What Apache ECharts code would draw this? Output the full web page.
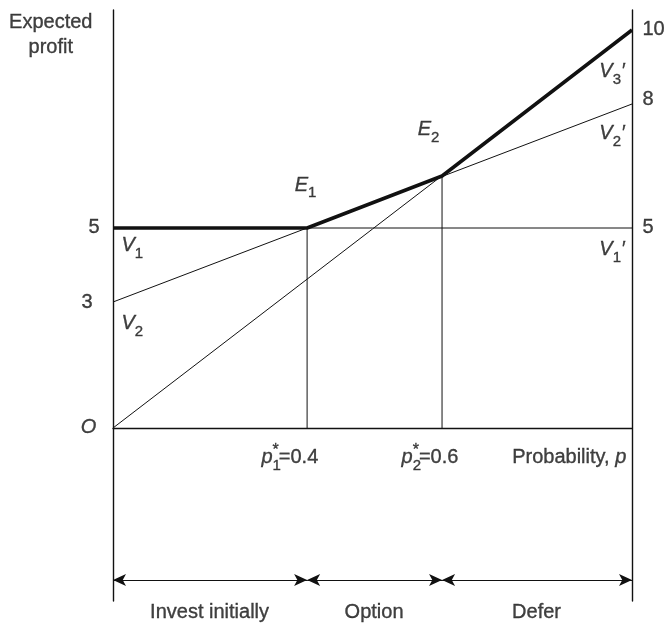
<!DOCTYPE html>
<html>
<head>
<meta charset="utf-8">
<script src="https://cdn.jsdelivr.net/npm/echarts@6/dist/echarts.min.js"></script>
<style>
  html, body { margin: 0; padding: 0; background: #fff; }
  #chart { width: 667px; height: 627px; }
</style>
</head>
<body>
<div id="chart"></div>
<script>
// value lines as drawn, p from 0 to 1
const probs = [0, 1]
const v1Values = [5, 5]
const v2Values = [3.15, 8.1]
const v3Values = [0, 9.95]
// where the lines meet in the drawing, and the printed values
const pStar = [0.374, 0.634]
const pStarLabels = ['0.4', '0.6']
const envelopeP = [0, 0.374, 0.634, 1]
const envelopeV = [5, 5, 6.3, 9.95]
// regions under the axis
const regionNames = ['Invest initially', 'Option', 'Defer']
const regionBounds = [0, 0.374, 0.634, 1]
// tick labels
const leftTickPos = [5, 3.12, 0]
const leftTickText = ['5', '3', '{i|O}']
const rightTickPos = [9.95, 8.2, 5]
const rightTickText = ['10', '8', '5']

const ink = '#111111'
const font = '"Liberation Sans", Arial, Helvetica, sans-serif'

const pairs = (xs, ys) => xs.map((x, i) => [x, ys[i]])

const lineSeries = (data, width) => ({
  type: 'line',
  data: data,
  symbol: 'none',
  silent: true,
  lineStyle: { color: ink, width: width },
  z: width > 2 ? 5 : 3,
})

// text annotations, positions in data units
const notes = [
  { at: [-0.119, 9.82], text: 'Expected\nprofit', align: 'center' },
  { at: [1.021, rightTickPos[0]], text: rightTickText[0], align: 'left' },
  { at: [1.021, rightTickPos[1]], text: rightTickText[1], align: 'left' },
  { at: [1.021, rightTickPos[2]], text: rightTickText[2], align: 'left' },
  { at: [0.0173, 4.54], text: '{i|V}{s|1}', align: 'left' },
  { at: [0.0173, 2.59], text: '{i|V}{s|2}', align: 'left' },
  { at: [0.938, 8.9], text: '{i|V}{s|3}{i|′}', align: 'left' },
  { at: [0.938, 7.34], text: '{i|V}{s|2}{i|′}', align: 'left' },
  { at: [0.938, 4.45], text: '{i|V}{s|1}{i|′}', align: 'left' },
  { at: [0.351, 6.06], text: '{i|E}{s|1}', align: 'left' },
  { at: [0.588, 7.45], text: '{i|E}{s|2}', align: 'left' },
  { at: [0.287, -0.75], text: '{i|p}{sz|1}{sup|*}{n|=' + pStarLabels[0] + '}', align: 'left' },
  { at: [0.557, -0.75], text: '{i|p}{sz|2}{sup|*}{n|=' + pStarLabels[1] + '}', align: 'left' },
  { at: [0.99, -0.75], text: '{n|Probability, }{i|p}', align: 'right' },
]
const leftOffsets = [-0.025, -0.0385, -0.031]
leftTickPos.forEach((v, k) => {
  notes.push({ at: [leftOffsets[k], v], text: leftTickText[k], align: 'right' })
})
regionNames.forEach((name, k) => {
  notes.push({
    at: [(regionBounds[k] + regionBounds[k + 1]) / 2, -4.62],
    text: name,
    align: 'center',
  })
})

const arrowY = -3.8
const arrowLines = regionNames.map((_, k) => [
  { coord: [regionBounds[k], arrowY] },
  { coord: [regionBounds[k + 1], arrowY] },
])

const chart = echarts.init(document.getElementById('chart'), null, { renderer: 'canvas' })

const yAxisBase = {
  type: 'value',
  min: -4.325,
  max: 10.45,
  axisLine: { show: true, lineStyle: { color: ink, width: 1.4 } },
  axisTick: { show: false },
  axisLabel: { show: false },
  splitLine: { show: false },
}

// shared text styles, a thin stroke in the ink colour darkens the glyphs
const txt = { fontFamily: font, color: ink, textBorderColor: ink, textBorderWidth: 0.35 }

chart.setOption({
  animation: false,
  backgroundColor: '#ffffff',
  grid: { left: 113, right: 35, top: 10, bottom: 26 },
  xAxis: {
    type: 'value',
    min: 0,
    max: 1,
    axisLine: { show: true, onZero: true, lineStyle: { color: ink, width: 1.3 } },
    axisTick: { show: false },
    axisLabel: { show: false },
    splitLine: { show: false },
  },
  yAxis: [
    Object.assign({ position: 'left' }, yAxisBase),
    Object.assign({ position: 'right' }, yAxisBase),
  ],
  series: [
    lineSeries(pairs(probs, v1Values), 1),
    lineSeries(pairs(probs, v2Values), 1),
    lineSeries(pairs(probs, v3Values), 1),
    lineSeries([[pStar[0], 0], [pStar[0], envelopeV[1]]], 1),
    lineSeries([[pStar[1], 0], [pStar[1], envelopeV[2]]], 1),
    lineSeries(pairs(envelopeP, envelopeV), 3.5),
    {
      type: 'line',
      data: [],
      silent: true,
      markLine: {
        silent: true,
        symbol: ['arrow', 'arrow'],
        symbolSize: [9, 13],
        label: { show: false },
        lineStyle: { color: ink, width: 1.2, type: 'solid' },
        data: arrowLines,
      },
    },
    {
      type: 'scatter',
      clip: false,
      silent: true,
      symbolSize: 1,
      itemStyle: { color: 'rgba(0,0,0,0)' },
      label: Object.assign({}, txt, {
        show: true,
        position: [0, 0],
        verticalAlign: 'middle',
        fontSize: 20,
        lineHeight: 25,
        rich: {
          i: Object.assign({ fontStyle: 'italic', fontSize: 20, lineHeight: 24 }, txt),
          n: Object.assign({ fontSize: 20, lineHeight: 24 }, txt),
          s: Object.assign({ fontSize: 15, lineHeight: 16, padding: [16, 0, 0, 0] }, txt),
          sz: Object.assign({ fontSize: 15, lineHeight: 16, padding: [16, 0, 0, 0], width: 0.01 }, txt),
          sup: Object.assign({ fontSize: 16, lineHeight: 14, padding: [0, 0, 14, 0] }, txt),
        },
      }),
      data: notes.map(n => ({
        value: n.at,
        label: { formatter: n.text, align: n.align },
      })),
    },
  ],
})
</script>
</body>
</html>
